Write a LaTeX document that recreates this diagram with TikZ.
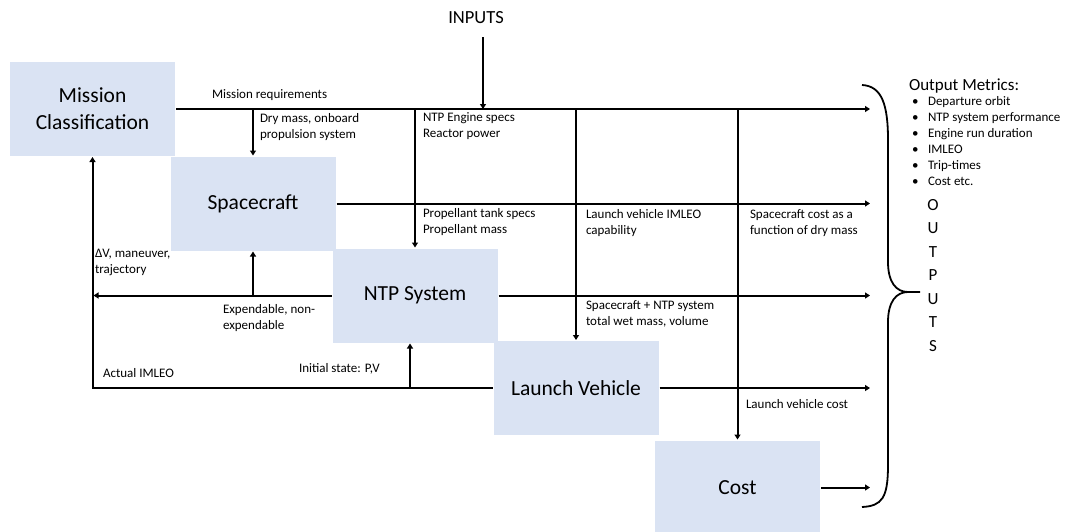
\documentclass[tikz,border=0pt]{standalone}
\usepackage{fontspec}
\setmainfont{Carlito}
\usetikzlibrary{arrows.meta, positioning}
\definecolor{boxblue}{HTML}{DAE3F3}

\begin{document}
\begin{tikzpicture}[x=1pt, y=-1pt, >={Triangle[length=5pt,width=6pt]}, line width=2pt, on grid]

        \tikzstyle{block}=[fill=boxblue, minimum width=165pt, minimum height=94pt, inner sep=0pt, align=center, font=\fontsize{21.5}{27}\selectfont]
        \tikzstyle{lbl}=[anchor=west, inner sep=0pt, align=left, font=\fontsize{13}{16}\selectfont]
        \tikzstyle{metric}=[lbl, text height=9pt, text depth=2.5pt]

        \useasboundingbox (0,0) rectangle (1065,531);

        \node[block] (mission) at (92.5,109) {Mission\\Classification};
        \node[block] (craft) [below right=94.5pt and 160.5pt of mission] {Spacecraft};
        \node[block] (ntp) [below right=92pt and 162pt of craft] {NTP System};
        \node[block] (lv) [below right=92.5pt and 161pt of ntp] {Launch Vehicle};
        \node[block] (cost) [below right=99.5pt and 161.5pt of lv] {Cost};

        \node[font=\fontsize{18.5}{22}\selectfont] (inputs) at (476,18) {INPUTS};
        \coordinate (outx) at (870,0);

        % forward flows
        \draw[->] ([xshift=7pt,yshift=-9pt]inputs.south) -- ([xshift=7pt]inputs.south |- mission.east);
        \draw[->] (mission.east) -- (mission.east -| outx);
        \draw[->] (mission.east -| craft.north) -- (craft.north);
        \draw[->] (mission.east -| ntp.north) -- (ntp.north);
        \draw[->] (mission.east -| lv.north) -- (lv.north);
        \draw[->] (mission.east -| cost.north) -- (cost.north);
        \draw[->] (craft.east) -- (craft.east -| outx);
        \draw[->] (ntp.east) -- (ntp.east -| outx);
        \draw[->] (lv.east) -- (lv.east -| outx);
        \draw[->] (cost.east) -- (cost.east -| outx);

        % feedback
        \draw[->, shorten >=1pt] (ntp.west) -- (ntp.west -| mission.south);
        \draw[->] (ntp.west -| craft.south) -- (craft.south);
        \draw[->] (lv.west) -- (lv.west -| mission.south) -- (mission.south);
        \draw[->] ([xshift=-5pt]ntp.south |- lv.west) -- ([xshift=-5pt]ntp.south);

        \node[lbl] (req) at (211,95) {Mission requirements};
        \node[lbl] (drymass) at (259,127) {Dry mass, onboard\\propulsion system};
        \node[lbl] (engine) at (422,126) {NTP Engine specs\\Reactor power};
        \node[lbl] (tank) at (422,222.5) {Propellant tank specs\\Propellant mass};
        \node[lbl] (imleocap) at (585,223) {Launch vehicle IMLEO\\capability};
        \node[lbl] (craftcost) at (749,223) {Spacecraft cost as a\\function of dry mass};
        \node[lbl] (dv) at (94,262) {ΔV, maneuver,\\trajectory};
        \node[lbl] (expend) at (222,318) {Expendable, non-\\expendable};
        \node[lbl] (init) at (298,369) {Initial state: P,V};
        \node[lbl] (actual) at (102,373) {Actual IMLEO};
        \node[lbl] (wetmass) at (585,314) {Spacecraft + NTP system\\total wet mass, volume};
        \node[lbl] (lvcost) at (745,404) {Launch vehicle cost};

        % outputs
        \draw[line width=1.8pt] (862,85) .. controls (882,86) and (888,105) .. (888,140) -- (888,262)
            .. controls (888,282) and (896,292) .. (908,292) -- (920,292);
        \draw[line width=1.8pt] (908,292) .. controls (896,292) and (888,302) .. (888,322) -- (888,465)
            .. controls (888,498) and (882,506) .. (862,507);

        \node[anchor=west, inner sep=0pt, font=\fontsize{17}{20}\selectfont] (metrics) at (908,86) {Output Metrics:};
        \foreach \txt [count=\i] in {Departure orbit, NTP system performance, Engine run duration, IMLEO, Trip-times, Cost etc.} {
            \node[metric] (bul\i) at (911,86+16*\i) {\textbullet};
            \node[metric] (met\i) at (927,86+16*\i) {\txt};
        }
        \foreach \ch [count=\i] in {O,U,T,P,U,T,S}
            \node[inner sep=0pt, font=\fontsize{17}{20}\selectfont] (out\i) at (933,181.5+23.5*\i) {\ch};

\end{tikzpicture}
\end{document}
